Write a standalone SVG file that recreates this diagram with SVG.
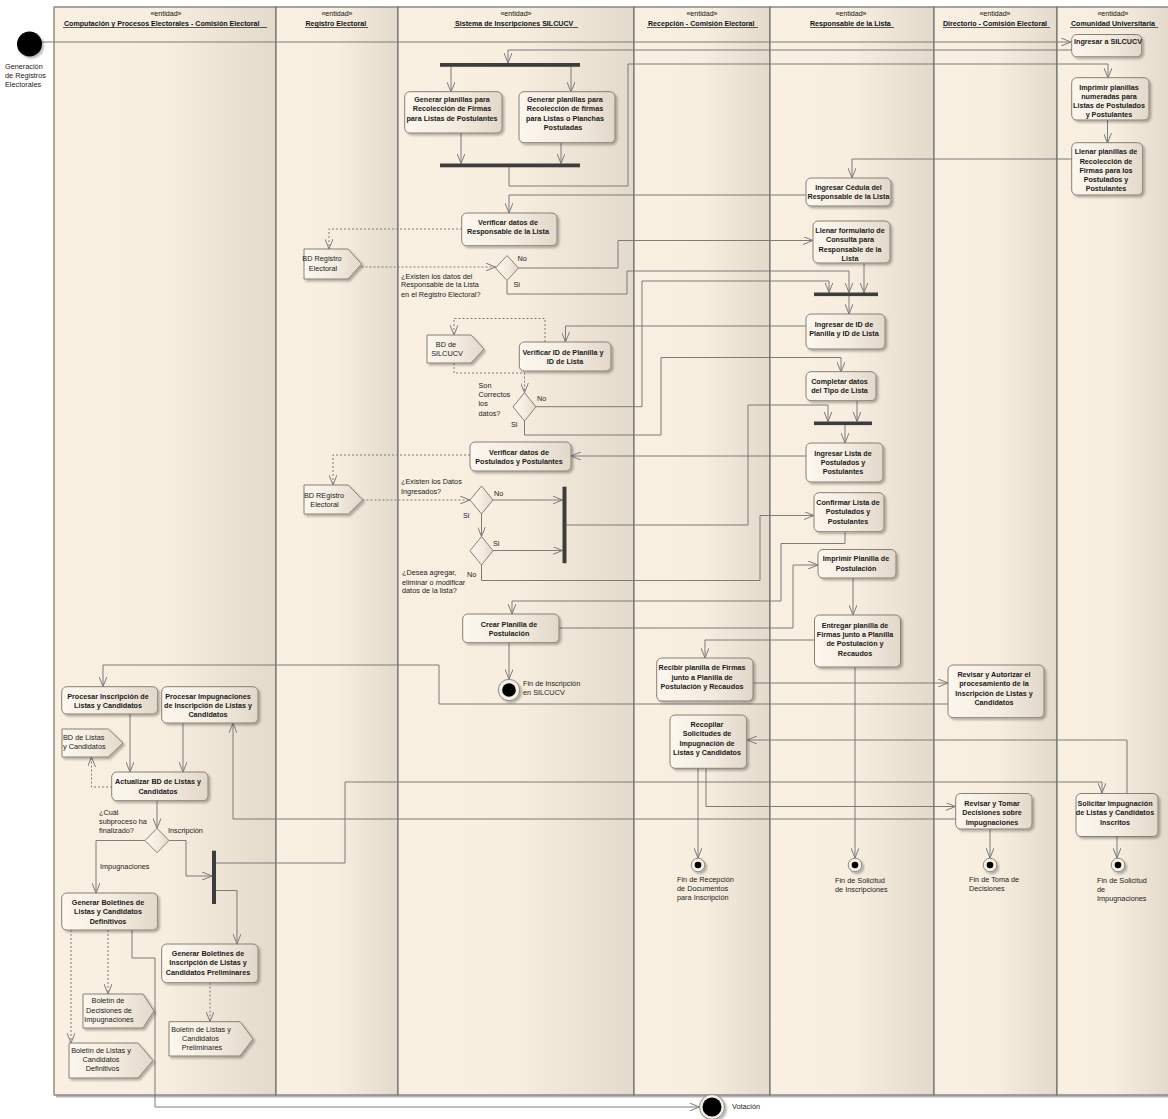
<svg xmlns="http://www.w3.org/2000/svg" width="1168" height="1119" viewBox="0 0 1168 1119">
<defs>
  <linearGradient id="laneG" x1="0" y1="0" x2="1" y2="0">
    <stop offset="0" stop-color="#F9F0E2"/>
    <stop offset="0.5" stop-color="#F7EEDF"/>
    <stop offset="1" stop-color="#E3DACC"/>
  </linearGradient>
  <linearGradient id="actG" x1="0" y1="0" x2="1" y2="0">
    <stop offset="0" stop-color="#FCF7EF"/>
    <stop offset="0.55" stop-color="#F3EBDF"/>
    <stop offset="1" stop-color="#E2D8CA"/>
  </linearGradient>
  <filter id="sh" x="-10%" y="-10%" width="130%" height="140%">
    <feDropShadow dx="2" dy="2" stdDeviation="0.8" flood-color="#000" flood-opacity="0.28"/>
  </filter>
  <marker id="arr" viewBox="0 0 10 8" refX="10" refY="4" markerWidth="10" markerHeight="8" markerUnits="userSpaceOnUse" orient="auto">
    <path d="M0,0 L10,4 L0,8" fill="none" stroke="#7b7b7b" stroke-width="1"/>
  </marker>
  <style>
    .lane{fill:url(#laneG);stroke:#6f6f6f;stroke-width:1.2}
    .hdr{font:bold 7.1px 'Liberation Sans',Arial,sans-serif;fill:#111}
    .st{font:7.1px 'Liberation Sans',Arial,sans-serif;fill:#111;text-anchor:middle}
    .ul{stroke:#333;stroke-width:0.8}
    .act{fill:url(#actG);stroke:#8a7f73;stroke-width:1;filter:url(#sh)}
    .obj{fill:url(#actG);stroke:#8a7f73;stroke-width:1;filter:url(#sh)}
    .at{font:bold 7.2px 'Liberation Sans',Arial,sans-serif;fill:#1a1a1a;text-anchor:middle}
    .ot{font:7.3px 'Liberation Sans',Arial,sans-serif;fill:#1a1a1a;text-anchor:middle}
    .lbl{font:7.3px 'Liberation Sans',Arial,sans-serif;fill:#222}
    .c{fill:none;stroke:#7b7b7b;stroke-width:1;marker-end:url(#arr)}
    .d{stroke-dasharray:2,2}
    .bar{fill:#3d3d3d}
    .dec{fill:url(#actG);stroke:#8a7f73;stroke-width:1}
    .fin{fill:#F6EFE4;stroke:#8a8a8a;stroke-width:1;filter:url(#sh)}
  </style>
</defs>

<rect x="0" y="0" width="1168" height="1119" fill="#ffffff"/>

<!-- swimlanes -->
<g id="lanes">
  <line x1="56" y1="1096.5" x2="1168" y2="1096.5" stroke="#b5b5b5" stroke-width="2"/>
  <rect class="lane" x="54" y="7" width="222" height="1088"/>
  <rect class="lane" x="276" y="7" width="122" height="1088"/>
  <rect class="lane" x="398" y="7" width="236" height="1088"/>
  <rect class="lane" x="634" y="7" width="136" height="1088"/>
  <rect class="lane" x="770" y="7" width="164" height="1088"/>
  <rect class="lane" x="934" y="7" width="123" height="1088"/>
  <rect class="lane" x="1057" y="7" width="112" height="1088"/>
  <line x1="54" y1="7" x2="54" y2="1095" stroke="#b0a89e" stroke-width="1.2"/>

  <text class="st" x="166" y="16">«entidad»</text>
  <text class="hdr" x="64" y="25.5">Computación y Procesos Electorales - Comisión Electoral</text>
  <line class="ul" x1="63" y1="27.5" x2="267" y2="27.5"/>

  <text class="st" x="337" y="16">«entidad»</text>
  <text class="hdr" x="305.5" y="25.5">Registro Electoral</text>
  <line class="ul" x1="305" y1="27.5" x2="368" y2="27.5"/>

  <text class="st" x="516" y="16">«entidad»</text>
  <text class="hdr" x="455" y="25.5">Sistema de Inscripciones SILCUCV</text>
  <line class="ul" x1="454" y1="27.5" x2="578" y2="27.5"/>

  <text class="st" x="702" y="16">«entidad»</text>
  <text class="hdr" x="648" y="25.5">Recepción - Comisión Electoral</text>
  <line class="ul" x1="647" y1="27.5" x2="758" y2="27.5"/>

  <text class="st" x="851" y="16">«entidad»</text>
  <text class="hdr" x="810" y="25.5">Responsable de la Lista</text>
  <line class="ul" x1="810" y1="27.5" x2="894" y2="27.5"/>

  <text class="st" x="995" y="16">«entidad»</text>
  <text class="hdr" x="943" y="25.5">Directorio - Comisión Electoral</text>
  <line class="ul" x1="943" y1="27.5" x2="1050" y2="27.5"/>

  <text class="st" x="1113" y="16">«entidad»</text>
  <text class="hdr" x="1071" y="25.5">Comunidad Universitaria</text>
  <line class="ul" x1="1070" y1="27.5" x2="1158" y2="27.5"/>
</g>

<!-- connectors -->
<g id="connectors">
  <path class="c" d="M41.5,42 H1071"/>
  <path class="c" d="M1072,50 H508 V63"/>
  <path class="c" d="M451,66.5 V92"/>
  <path class="c" d="M571,66.5 V92"/>
  <path class="c" d="M461,133 V163.5"/>
  <path class="c" d="M561,142.5 V163.5"/>
  <path class="c" d="M509,167 V186 H628 V64 H1108 V78"/>
  <path class="c" d="M1107.5,120 V143"/>
  <path class="c" d="M1071.5,159 H852 V178"/>
  <path class="c" d="M806,195 H509 V213"/>
  <path class="c d" d="M462,229 H329 V249"/>
  <path class="c d" d="M361.5,267 H495.5"/>
  <path class="c" d="M518.5,268 H618 V240.5 H813"/>
  <path class="c" d="M507,280.5 V294 H627 V271 H849 V292.5"/>
  <path class="c" d="M864,263 V292.5"/>
  <path class="c" d="M536,406.7 H642 V281 H829 V292.5"/>
  <path class="c" d="M849,296 V314"/>
  <path class="c" d="M806,326 H565.5 V342"/>
  <path class="c d" d="M545,342 V318.5 H454 V335"/>
  <path class="c d" d="M454,363 V373 H524.5 V392.7"/>
  <path class="c" d="M524.5,421 V435 H661 V357.5 H841 V372"/>
  <path class="c" d="M857,401 V421.5"/>
  <path class="c" d="M566.5,525 H748 V405 H828 V421.5"/>
  <path class="c" d="M845,425 V443"/>
  <path class="c" d="M806,456 H571"/>
  <path class="c d" d="M470,455 H333 V485"/>
  <path class="c d" d="M362.5,500 H470"/>
  <path class="c" d="M493,500 H562.5"/>
  <path class="c" d="M481.5,514 V536.5"/>
  <path class="c" d="M493,550.5 H562.5"/>
  <path class="c" d="M481.5,565 V580.5 H760 V515.5 H814"/>
  <path class="c" d="M845,532 V543.5 H781 V601 H512 V614"/>
  <path class="c" d="M559,628 H793 V565 H818"/>
  <path class="c" d="M509,643 V679.3"/>
  <path class="c" d="M853,578 V615"/>
  <path class="c" d="M815,640 H705 V658"/>
  <path class="c" d="M855,667 V858"/>
  <path class="c" d="M753,683 H948"/>
  <path class="c" d="M948,704 H439 V665 H103 V686.5"/>
  <path class="c" d="M130,714 V772"/>
  <path class="c" d="M183,723 V772"/>
  <path class="c d" d="M112,787 H91.5 V757"/>
  <path class="c" d="M157,801 V828.3"/>
  <path class="c" d="M145,840.5 H96 V893"/>
  <path class="c" d="M169,840.5 H186 V876 H212"/>
  <path class="c" d="M216,863 H345 V782 H1102 V793"/>
  <path class="c" d="M216,890.5 H237 V944"/>
  <path class="c d" d="M71,930 V1043"/>
  <path class="c d" d="M108,930 V994"/>
  <path class="c" d="M132,930 V958 H155 V1107 H699.5"/>
  <path class="c d" d="M210,982.5 V1021.7"/>
  <path class="c" d="M1127,793 V740 H747"/>
  <path class="c" d="M698,768 V858"/>
  <path class="c" d="M706,768 V806.5 H955.5"/>
  <path class="c" d="M955.5,819 H233 V723"/>
  <path class="c" d="M990,829 V858"/>
  <path class="c" d="M1117,836.5 V858"/>
</g>

<!-- initial node -->
<g id="inicio">
  <circle cx="29.5" cy="44" r="12.5" fill="#000" filter="url(#sh)"/>
  <text class="lbl" x="5" y="68.5">Generación</text>
  <text class="lbl" x="5" y="77.5">de Registros</text>
  <text class="lbl" x="5" y="86.5">Electorales</text>
</g>

<!-- fork / join bars -->
<g id="bar-fork1"><rect class="bar" x="440" y="63" width="140" height="3.8"/></g>
<g id="bar-join1"><rect class="bar" x="440" y="163.5" width="140" height="3.8"/></g>
<g id="bar-fork2"><rect class="bar" x="814" y="292.5" width="64" height="3.6"/></g>
<g id="bar-join2"><rect class="bar" x="814" y="421.5" width="58" height="3.6"/></g>
<g id="bar-postulados"><rect class="bar" x="562.5" y="486.7" width="4" height="76.5"/></g>
<g id="bar-boletines"><rect class="bar" x="212" y="850.7" width="4" height="53.3"/></g>

<!-- activities -->
<g id="ingresar-silcucv">
  <rect class="act" x="1071.7" y="34.5" width="70" height="22.3" rx="5"/>
  <text class="at" x="1108" y="44.3">Ingresar a SILCUCV</text>
</g>
<g id="imprimir-planillas">
  <rect class="act" x="1071.7" y="77.7" width="77.3" height="42.3" rx="5"/>
  <text class="at"><tspan x="1109" y="90">Imprimir planillas</tspan><tspan x="1109" y="99.2">numeradas para</tspan><tspan x="1109" y="108.2">Listas de Postulados</tspan><tspan x="1109" y="117.4">y Postulantes</tspan></text>
</g>
<g id="llenar-planillas">
  <rect class="act" x="1071.7" y="142.7" width="71" height="52.3" rx="5"/>
  <text class="at"><tspan x="1106" y="154.2">Llenar planillas de</tspan><tspan x="1106" y="164">Recolección de</tspan><tspan x="1106" y="173.2">Firmas para los</tspan><tspan x="1106" y="182.4">Postulados y</tspan><tspan x="1106" y="191.4">Postulantes</tspan></text>
</g>
<g id="generar-postulantes">
  <rect class="act" x="404.7" y="91.7" width="97.3" height="41.3" rx="5"/>
  <text class="at"><tspan x="452" y="102">Generar planillas para</tspan><tspan x="452" y="111.2">Recolección de Firmas</tspan><tspan x="452" y="120.6">para Listas de Postulantes</tspan></text>
</g>
<g id="generar-postuladas">
  <rect class="act" x="519" y="91.7" width="96" height="51" rx="5"/>
  <text class="at"><tspan x="565" y="102">Generar planillas para</tspan><tspan x="565" y="111.2">Recolección de firmas</tspan><tspan x="565" y="120.6">para Listas o Planchas</tspan><tspan x="563" y="130">Postuladas</tspan></text>
</g>
<g id="ingresar-cedula">
  <rect class="act" x="806" y="178" width="85" height="28" rx="5"/>
  <text class="at"><tspan x="848.5" y="189.8">Ingresar Cédula del</tspan><tspan x="848.5" y="199.2">Responsable de la Lista</tspan></text>
</g>
<g id="verificar-responsable">
  <rect class="act" x="461.7" y="213" width="95.3" height="32.7" rx="5"/>
  <text class="at"><tspan x="508" y="225">Verificar datos de</tspan><tspan x="508" y="234.2">Responsable de la Lista</tspan></text>
</g>
<g id="llenar-formulario">
  <rect class="act" x="813" y="221" width="77" height="42" rx="5"/>
  <text class="at"><tspan x="850" y="233">Llenar formulario de</tspan><tspan x="850" y="242.4">Consulta para</tspan><tspan x="850" y="251.6">Responsable de la</tspan><tspan x="850" y="261">Lista</tspan></text>
</g>
<g id="ingresar-id">
  <rect class="act" x="806" y="314" width="79" height="35" rx="5"/>
  <text class="at"><tspan x="844" y="326.6">Ingresar de ID de</tspan><tspan x="844" y="336">Planilla y ID de Lista</tspan></text>
</g>
<g id="verificar-id">
  <rect class="act" x="519.3" y="342" width="91.7" height="29" rx="5"/>
  <text class="at"><tspan x="563" y="354.8">Verificar ID de Planilla y</tspan><tspan x="565" y="364.2">ID de Lista</tspan></text>
</g>
<g id="completar-tipo">
  <rect class="act" x="806" y="371.7" width="70" height="29" rx="5"/>
  <text class="at"><tspan x="839.5" y="384.2">Completar datos</tspan><tspan x="839.5" y="393.2">del Tipo de Lista</tspan></text>
</g>
<g id="ingresar-lista">
  <rect class="act" x="806" y="443" width="77" height="39" rx="5"/>
  <text class="at"><tspan x="843" y="455.8">Ingresar Lista de</tspan><tspan x="843" y="465">Postulados y</tspan><tspan x="843" y="474.2">Postulantes</tspan></text>
</g>
<g id="verificar-postulados">
  <rect class="act" x="470" y="442" width="101" height="29" rx="5"/>
  <text class="at"><tspan x="519" y="454.5">Verificar datos de</tspan><tspan x="519" y="463.6">Postulados y Postulantes</tspan></text>
</g>
<g id="confirmar-lista">
  <rect class="act" x="814" y="492.7" width="70" height="39" rx="5"/>
  <text class="at"><tspan x="848" y="505">Confirmar Lista de</tspan><tspan x="848" y="514.2">Postulados y</tspan><tspan x="848" y="523.6">Postulantes</tspan></text>
</g>
<g id="imprimir-planilla">
  <rect class="act" x="818" y="549.5" width="78" height="28.5" rx="5"/>
  <text class="at"><tspan x="856" y="561">Imprimir Planilla de</tspan><tspan x="856" y="571.4">Postulación</tspan></text>
</g>
<g id="crear-planilla">
  <rect class="act" x="462.7" y="614" width="96.3" height="28.7" rx="5"/>
  <text class="at"><tspan x="509" y="626.6">Crear Planilla de</tspan><tspan x="509" y="636">Postulación</tspan></text>
</g>
<g id="entregar-planilla">
  <rect class="act" x="814.5" y="615" width="86" height="52" rx="5"/>
  <text class="at"><tspan x="855" y="627.6">Entregar planilla de</tspan><tspan x="855" y="636.8">Firmas junto a Planilla</tspan><tspan x="855" y="646.2">de Postulación y</tspan><tspan x="855" y="655.6">Recaudos</tspan></text>
</g>
<g id="recibir-planilla">
  <rect class="act" x="656.7" y="658" width="96.3" height="43" rx="5"/>
  <text class="at"><tspan x="702" y="670.2">Recibir planilla de Firmas</tspan><tspan x="702" y="679.6">junto a Planilla de</tspan><tspan x="702" y="689">Postulación y Recaudos</tspan></text>
</g>
<g id="revisar-autorizar">
  <rect class="act" x="948" y="665" width="96" height="52.7" rx="5"/>
  <text class="at"><tspan x="994" y="677">Revisar y Autorizar el</tspan><tspan x="994" y="686.2">procesamiento de la</tspan><tspan x="994" y="695.6">Inscripción de Listas y</tspan><tspan x="994" y="705">Candidatos</tspan></text>
</g>
<g id="recopilar-solicitudes">
  <rect class="act" x="670" y="715" width="76.7" height="53.3" rx="5"/>
  <text class="at"><tspan x="707" y="727">Recopilar</tspan><tspan x="707" y="736.2">Solicitudes de</tspan><tspan x="707" y="745.6">Impugnación de</tspan><tspan x="707" y="755">Listas y Candidatos</tspan></text>
</g>
<g id="revisar-tomar">
  <rect class="act" x="955.7" y="793.5" width="76.3" height="35.5" rx="5"/>
  <text class="at"><tspan x="992" y="806">Revisar y Tomar</tspan><tspan x="992" y="815.2">Decisiones sobre</tspan><tspan x="992" y="824.6">Impugnaciones</tspan></text>
</g>
<g id="solicitar-impugnacion">
  <rect class="act" x="1076" y="793.5" width="82" height="43" rx="5"/>
  <text class="at"><tspan x="1115" y="806">Solicitar Impugnación</tspan><tspan x="1115" y="815.2">de Listas y Candidatos</tspan><tspan x="1115" y="824.6">Inscritos</tspan></text>
</g>
<g id="procesar-inscripcion">
  <rect class="act" x="61.7" y="686.7" width="96" height="27.3" rx="5"/>
  <text class="at"><tspan x="108" y="698.6">Procesar Inscripción de</tspan><tspan x="108" y="708">Listas y Candidatos</tspan></text>
</g>
<g id="procesar-impugnaciones">
  <rect class="act" x="161.7" y="686.7" width="96.3" height="36.3" rx="5"/>
  <text class="at"><tspan x="208" y="698.6">Procesar Impugnaciones</tspan><tspan x="208" y="708">de Inscripción de Listas y</tspan><tspan x="208" y="717">Candidatos</tspan></text>
</g>
<g id="actualizar-bd">
  <rect class="act" x="111.7" y="772" width="96.3" height="28.7" rx="5"/>
  <text class="at"><tspan x="158" y="784">Actualizar BD de Listas y</tspan><tspan x="158" y="793.6">Candidatos</tspan></text>
</g>
<g id="generar-definitivos">
  <rect class="act" x="61.7" y="893" width="96" height="37" rx="5"/>
  <text class="at"><tspan x="108" y="905">Generar Boletines de</tspan><tspan x="108" y="914.4">Listas y Candidatos</tspan><tspan x="108" y="923.6">Definitivos</tspan></text>
</g>
<g id="generar-preliminares">
  <rect class="act" x="161.7" y="944" width="96.3" height="38.7" rx="5"/>
  <text class="at"><tspan x="208" y="956">Generar Boletines de</tspan><tspan x="208" y="965.2">Inscripción de Listas y</tspan><tspan x="208" y="974.6">Candidatos Preliminares</tspan></text>
</g>

<!-- object nodes -->
<g id="bd-registro-1">
  <polygon class="obj" points="304,249 348,249 361.7,264 348,279 304,279"/>
  <text class="ot"><tspan x="322" y="261">BD Registro</tspan><tspan x="323" y="270.5">Electoral</tspan></text>
</g>
<g id="bd-silcucv">
  <polygon class="obj" points="427,335 471,335 484,349 471,363 427,363"/>
  <text class="ot"><tspan x="446" y="346.5">BD de</tspan><tspan x="447" y="356">SILCUCV</tspan></text>
</g>
<g id="bd-registro-2">
  <polygon class="obj" points="304,485 348.3,485 362.7,500 348.3,514 304,514"/>
  <text class="ot"><tspan x="324" y="497.5">BD REgistro</tspan><tspan x="324.5" y="506.5">Electoral</tspan></text>
</g>
<g id="bd-listas">
  <polygon class="obj" points="62,729 108.3,729 123,743 108.3,757 62,757"/>
  <text class="lbl"><tspan x="63" y="740">BD de Listas</tspan><tspan x="63" y="749.2">y Candidatos</tspan></text>
</g>
<g id="boletin-decisiones">
  <polygon class="obj" points="83,994 143,994 154,1011 143,1028 83,1028"/>
  <text class="ot"><tspan x="108" y="1003">Boletín de</tspan><tspan x="109" y="1012.5">Decisiones de</tspan><tspan x="109" y="1022">Impugnaciones</tspan></text>
</g>
<g id="boletin-definitivos">
  <polygon class="obj" points="69,1043 138,1043 153,1060.5 138,1078 69,1078"/>
  <text class="ot"><tspan x="101" y="1052.5">Boletín de Listas y</tspan><tspan x="101" y="1062">Candidatos</tspan><tspan x="102.5" y="1071.2">Definitivos</tspan></text>
</g>
<g id="boletin-preliminares">
  <polygon class="obj" points="169,1021.7 240,1021.7 253,1039 240,1056 169,1056"/>
  <text class="ot"><tspan x="201" y="1031.5">Boletín de Listas y</tspan><tspan x="200.5" y="1041">Candidatos</tspan><tspan x="202" y="1050">Preliminares</tspan></text>
</g>

<!-- decisions -->
<g id="dec-existen-responsable">
  <polygon class="dec" points="507,255.5 518.5,268 507,280.5 495.5,268"/>
  <text class="lbl"><tspan x="401" y="278.5">¿Existen los datos del</tspan><tspan x="401" y="287.3">Responsable de la Lista</tspan><tspan x="401" y="296.7">en el Registro Electoral?</tspan></text>
  <text class="lbl" x="517.5" y="261">No</text>
  <text class="lbl" x="513.5" y="286.5">Si</text>
</g>
<g id="dec-correctos">
  <polygon class="dec" points="524.5,392.7 536,406.8 524.5,421 513,406.8"/>
  <text class="lbl"><tspan x="478.5" y="387.5">Son</tspan><tspan x="478.5" y="396.7">Correctos</tspan><tspan x="478.5" y="406.3">los</tspan><tspan x="478.5" y="415.5">datos?</tspan></text>
  <text class="lbl" x="537" y="401">No</text>
  <text class="lbl" x="511" y="426.7">Si</text>
</g>
<g id="dec-existen-datos">
  <polygon class="dec" points="481.5,486 493,500 481.5,514 470,500"/>
  <text class="lbl"><tspan x="401" y="484.2">¿Existen los Datos</tspan><tspan x="401" y="493.5">Ingresados?</tspan></text>
  <text class="lbl" x="494" y="495.5">No</text>
  <text class="lbl" x="463" y="517.5">Si</text>
</g>
<g id="dec-desea-agregar">
  <polygon class="dec" points="481.5,536.5 493,550.7 481.5,565 470,550.7"/>
  <text class="lbl" x="493" y="545.5">Si</text>
  <text class="lbl" x="467" y="576.5">No</text>
  <text class="lbl"><tspan x="402" y="575.2">¿Desea agregar,</tspan><tspan x="402" y="584.5">eliminar o modificar</tspan><tspan x="402" y="593.2">datos de la lista?</tspan></text>
</g>
<g id="dec-subproceso">
  <polygon class="dec" points="157,828.3 169,840.5 157,852.7 145,840.5"/>
  <text class="lbl"><tspan x="99" y="814.5">¿Cuál</tspan><tspan x="99" y="824">subproceso ha</tspan><tspan x="99" y="833.2">finalizado?</tspan></text>
  <text class="lbl" x="168" y="833.2">Inscripción</text>
  <text class="lbl" x="100" y="869">Impugnaciones</text>
</g>

<!-- final nodes -->
<g id="fin-silcucv">
  <circle class="fin" cx="509" cy="690" r="10.7"/>
  <circle cx="509" cy="690" r="6.8" fill="#000"/>
  <text class="lbl"><tspan x="523" y="686">Fin de Inscripción</tspan><tspan x="523" y="695.3">en SILCUCV</tspan></text>
</g>
<g id="fin-recepcion">
  <circle class="fin" cx="698" cy="865" r="6.8"/>
  <circle cx="698" cy="865" r="3.3" fill="#000"/>
  <text class="lbl"><tspan x="677" y="881.5">Fin de Recepción</tspan><tspan x="677" y="891">de Documentos</tspan><tspan x="677" y="900.3">para Inscripción</tspan></text>
</g>
<g id="fin-solicitud-inscripciones">
  <circle class="fin" cx="855" cy="865" r="6.8"/>
  <circle cx="855" cy="865" r="3.3" fill="#000"/>
  <text class="lbl"><tspan x="835" y="882.5">Fin de Solicitud</tspan><tspan x="835" y="891.7">de Inscripciones</tspan></text>
</g>
<g id="fin-toma-decisiones">
  <circle class="fin" cx="990" cy="865" r="6.8"/>
  <circle cx="990" cy="865" r="3.3" fill="#000"/>
  <text class="lbl"><tspan x="969" y="881.5">Fin de Toma de</tspan><tspan x="969" y="890.7">Decisiones</tspan></text>
</g>
<g id="fin-solicitud-impugnaciones">
  <circle class="fin" cx="1118" cy="865" r="6.8"/>
  <circle cx="1118" cy="865" r="3.3" fill="#000"/>
  <text class="lbl"><tspan x="1097" y="882.5">Fin de Solicitud</tspan><tspan x="1097" y="891.7">de</tspan><tspan x="1097" y="900.8">Impugnaciones</tspan></text>
</g>
<g id="votacion">
  <circle class="fin" cx="712" cy="1107" r="12.5"/>
  <circle cx="712" cy="1107" r="9.5" fill="#000"/>
  <text class="lbl" x="732" y="1109">Votación</text>
</g>
</svg>
